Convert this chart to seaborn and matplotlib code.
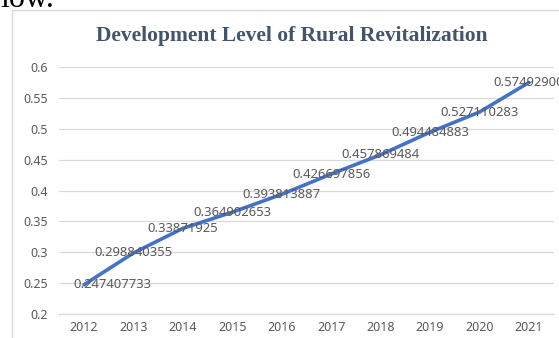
import matplotlib
matplotlib.use("Agg")
import matplotlib.pyplot as plt
import seaborn as sns
import pandas as pd
from matplotlib.patches import Rectangle

years = ["2012", "2013", "2014", "2015", "2016", "2017", "2018", "2019", "2020", "2021"]
values = [0.247407733, 0.298840355, 0.33871925, 0.364902653, 0.393813887,
          0.426697856, 0.457869484, 0.494484883, 0.527110283, 0.57492900]
label_texts = ["0.247407733", "0.298840355", "0.33871925", "0.364902653", "0.393813887",
               "0.426697856", "0.457869484", "0.494484883", "0.527110283", "0.57492900"]
y_ticks = [0.2, 0.25, 0.3, 0.35, 0.4, 0.45, 0.5, 0.55, 0.6]
y_tick_labels = ["0.2", "0.25", "0.3", "0.35", "0.4", "0.45", "0.5", "0.55", "0.6"]
title = "Development Level of Rural Revitalization"

sns.set_style("white")
plt.rcParams['font.family'] = ['Noto Sans', 'DejaVu Sans']

df = pd.DataFrame({"year": years, "value": values})

fig = plt.figure(figsize=(5.59, 3.38), dpi=100)
fig.patch.set_facecolor("white")

# chart frame
fig.patches.append(Rectangle((12/559, -0.05), 1.2, 1 - 10/338 + 0.05,
                             transform=fig.transFigure, fill=False,
                             edgecolor="#D9D9D9", linewidth=1.0, zorder=0))
# cut-off document text above chart
fig.text(0.0, 1 - 7/338, "low.", fontsize=23, family="Liberation Serif",
         color="black", ha="left", va="baseline")

ax = fig.add_axes([59.3/559, 1 - 314/338, (553.7 - 59.3)/559, (314 - 67)/338])
sns.lineplot(data=df, x="year", y="value", ax=ax, color="#4472C4",
             linewidth=2.6, sort=False, zorder=3)

ax.set_xlim(-0.5, len(years) - 0.5)
ax.set_ylim(0.2, 0.6)
ax.set_yticks(y_ticks)
ax.set_yticklabels(y_tick_labels)
ax.set_xlabel("")
ax.set_ylabel("")
ax.grid(axis="y", color="#D9D9D9", linewidth=0.9)
ax.set_axisbelow(True)
for s in ["top", "right", "left"]:
    ax.spines[s].set_visible(False)
ax.spines["bottom"].set_color("#D9D9D9")
ax.spines["bottom"].set_linewidth(0.9)
ax.tick_params(axis="y", length=0, labelsize=9, labelcolor="#595959", pad=8)
ax.tick_params(axis="x", length=0, labelsize=9, labelcolor="#595959", pad=5)
ax.set_xticks(range(len(years)))
ax.set_xticks([i - 0.5 for i in range(len(years) + 1)], minor=True)
ax.tick_params(axis="x", which="minor", length=4, color="#D9D9D9", direction="out")
ax.patch.set_alpha(0)

for i, (v, t) in enumerate(zip(values, label_texts)):
    dx = 0.57 if i == 0 else 0.0
    ax.text(i + dx, v, t, ha="center", va="center", fontsize=9.4,
            color="#595959", zorder=4)

fig.text(292/559, 1 - 36/338, title, ha="center", va="center",
         fontsize=15.5, fontweight="bold", family="Liberation Serif",
         color="#44546A")

fig.savefig("out.png", dpi=100)
